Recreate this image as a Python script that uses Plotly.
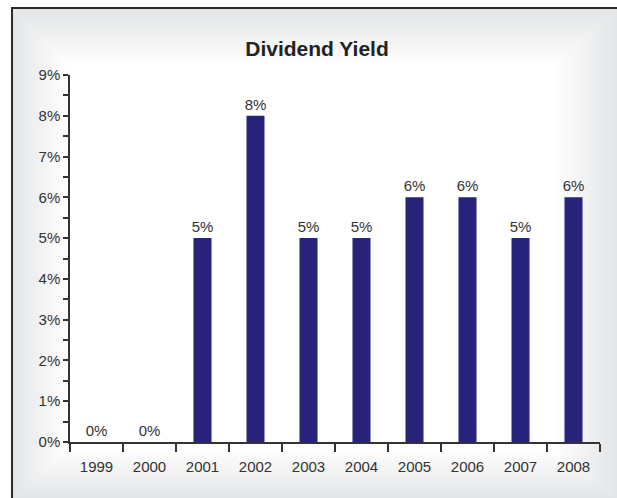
import plotly.graph_objects as go

# Dividend yield per year (percent)
years = ["1999", "2000", "2001", "2002", "2003", "2004", "2005", "2006", "2007", "2008"]
yield_pct = [0, 0, 5, 8, 5, 5, 6, 6, 5, 6]
bar_labels = [f"{v}%" for v in yield_pct]

W, H = 617, 498
ML, MR, MT, MB = 70, 17, 75, 56
PW, PH = W - ML - MR, H - MT - MB
FONT = "Liberation Sans, Arial, Helvetica, sans-serif"


def px_x(p):
    return (p - ML) / PW


def px_y(p):
    return (H - MB - p) / PH


shapes = []
# soft grey frame fading to a white centre
outer = (12, 8, 617, 498)
inner = (66, 64, 556, 450)
steps = 16
c0 = (228, 229, 231)
for i in range(steps + 1):
    t = i / steps
    x0 = outer[0] + (inner[0] - outer[0]) * t
    y0 = outer[1] + (inner[1] - outer[1]) * t
    x1 = outer[2] + (inner[2] - outer[2]) * t
    y1 = outer[3] + (inner[3] - outer[3]) * t
    c = tuple(round(a + (255 - a) * t) for a in c0)
    shapes.append(dict(
        type="rect", xref="paper", yref="paper", layer="below",
        x0=px_x(x0), x1=px_x(x1), y0=px_y(y1), y1=px_y(y0),
        fillcolor=f"rgb{c}", line=dict(width=0),
    ))
# dark frame edge on the left and top
shapes.append(dict(
    type="path", xref="paper", yref="paper", layer="below",
    path=f"M {px_x(12)} {px_y(498)} L {px_x(12)} {px_y(8)} L {px_x(617)} {px_y(8)}",
    line=dict(color="#2a2a2a", width=2),
))

fig = go.Figure(go.Bar(
    x=years, y=yield_pct,
    marker=dict(color="#27237A", line=dict(width=0)),
    text=bar_labels, texttemplate="%{text}", textposition="outside",
    constraintext="none",
    textfont=dict(family=FONT, size=15, color="#333333"),
    cliponaxis=False,
))

fig.update_layout(
    width=W, height=H,
    margin=dict(l=ML, r=MR, t=MT, b=MB),
    paper_bgcolor="white", plot_bgcolor="rgba(0,0,0,0)",
    bargap=0.66,
    showlegend=False,
    shapes=shapes,
    font=dict(family=FONT, size=15, color="#333333"),
    title=dict(
        text="<b>Dividend Yield</b>", x=317 / W, xanchor="center",
        y=1 - 49 / H, yanchor="middle", yref="container",
        font=dict(family=FONT, size=21, color="#222222"),
    ),
    xaxis=dict(
        type="category", showline=True, linecolor="#333333", linewidth=1.5,
        ticks="outside", tickson="boundaries", ticklen=8, tickcolor="#333333", tickwidth=1.5,
        ticklabelstandoff=10,
        showgrid=False, zeroline=False,
        tickfont=dict(family=FONT, size=15, color="#333333"),
    ),
    yaxis=dict(
        range=[0, 9], dtick=1, ticksuffix="%",
        showline=True, linecolor="#333333", linewidth=1.5,
        ticks="outside", ticklen=5, tickcolor="#333333", tickwidth=1.5,
        minor=dict(dtick=0.5, ticks="outside", ticklen=5, tickcolor="#333333", tickwidth=1.5, showgrid=False),
        showgrid=False, zeroline=False,
        tickfont=dict(family=FONT, size=15, color="#333333"),
    ),
)

fig.write_html("out.html")
